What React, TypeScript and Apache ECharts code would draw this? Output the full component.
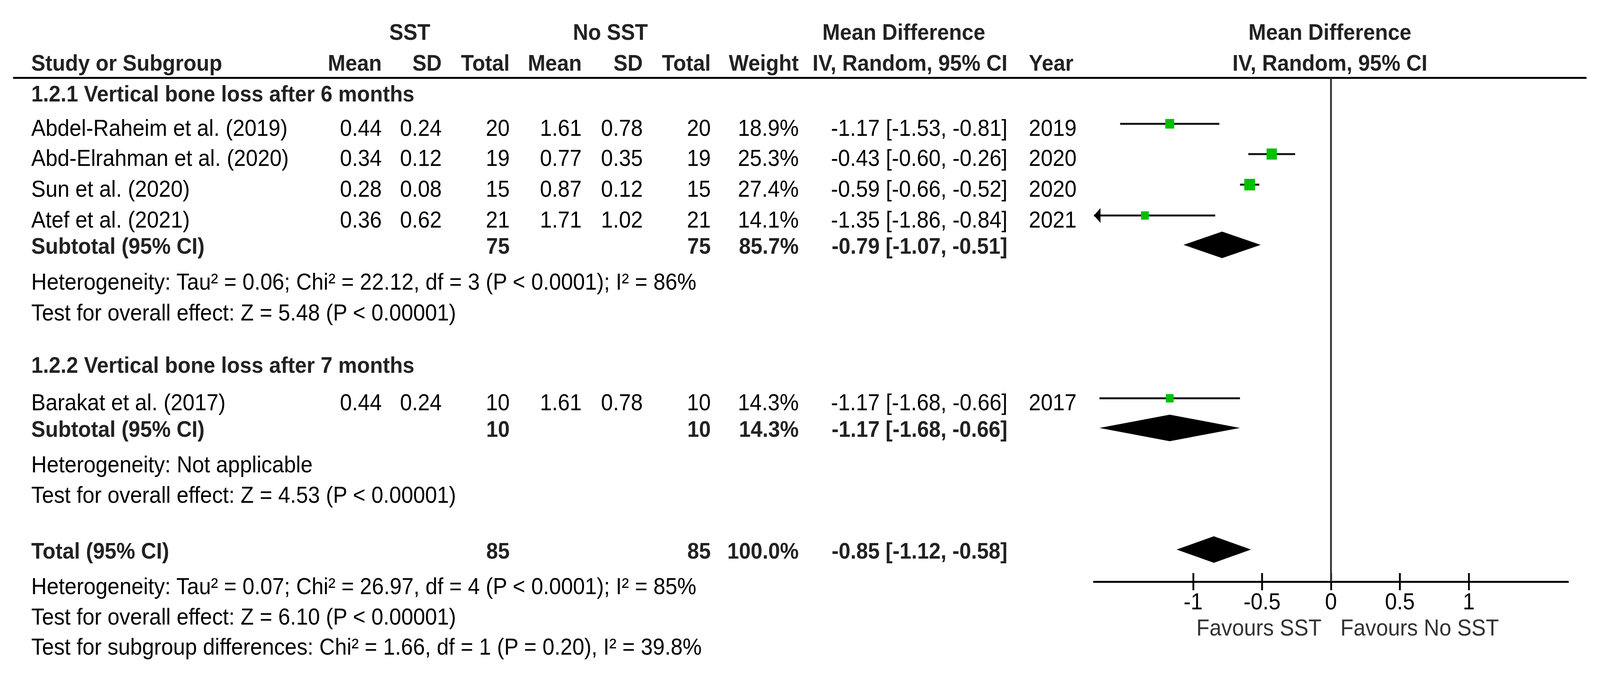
import React, { useEffect, useRef } from "react";
import * as echarts from "echarts";

// ---------------- data ----------------
const studies = [
  "Abdel-Raheim et al. (2019)",
  "Abd-Elrahman et al. (2020)",
  "Sun et al. (2020)",
  "Atef et al. (2021)",
  "Barakat et al. (2017)",
];
const sstMean = [0.44, 0.34, 0.28, 0.36, 0.44];
const sstSD = [0.24, 0.12, 0.08, 0.62, 0.24];
const sstTotal = [20, 19, 15, 21, 10];
const noMean = [1.61, 0.77, 0.87, 1.71, 1.61];
const noSD = [0.78, 0.35, 0.12, 1.02, 0.78];
const noTotal = [20, 19, 15, 21, 10];
const weights = [18.9, 25.3, 27.4, 14.1, 14.3];
const md = [-1.17, -0.43, -0.59, -1.35, -1.17];
const ciLow = [-1.53, -0.6, -0.66, -1.86, -1.68];
const ciHigh = [-0.81, -0.26, -0.52, -0.84, -0.66];
const years = [2019, 2020, 2020, 2021, 2017];

const groupTitles = [
  "1.2.1 Vertical bone loss after 6 months",
  "1.2.2 Vertical bone loss after 7 months",
];
const subSstTotal = [75, 10];
const subNoTotal = [75, 10];
const subWeight = [85.7, 14.3];
const subMd = [-0.79, -1.17];
const subLow = [-1.07, -1.68];
const subHigh = [-0.51, -0.66];
const subHet = [
  "Heterogeneity: Tau² = 0.06; Chi² = 22.12, df = 3 (P < 0.0001); I² = 86%",
  "Heterogeneity: Not applicable",
];
const subTest = [
  "Test for overall effect: Z = 5.48 (P < 0.00001)",
  "Test for overall effect: Z = 4.53 (P < 0.00001)",
];
const totalSst = 85;
const totalNo = 85;
const totalWeight = 100.0;
const totalMd = -0.85;
const totalLow = -1.12;
const totalHigh = -0.58;
const totalHet = "Heterogeneity: Tau² = 0.07; Chi² = 26.97, df = 4 (P < 0.0001); I² = 85%";
const totalTest = "Test for overall effect: Z = 6.10 (P < 0.00001)";
const subgroupTest = "Test for subgroup differences: Chi² = 1.66, df = 1 (P = 0.20), I² = 39.8%";

const tickValues = [-1, -0.5, 0, 0.5, 1];
const favoursLeft = "Favours SST";
const favoursRight = "Favours No SST";

// ---------------- layout ----------------
const W = 4401;
const H = 1724;
const FONT = '"Liberation Sans", Arial, Helvetica, sans-serif';
const REG = 59;
const BOLD = 58;
const LINE_Y = 199.5;
const ROW_PX = 78.3;
const AXIS_Y = 1490;
const Y_MAX = (AXIS_Y - LINE_Y) / ROW_PX;
const PLOT_LEFT = 3009;
const PLOT_RIGHT = 4313;
const TABLE_LEFT = 38;
const TABLE_RIGHT = 4362;
const X_MIN = -1.72;
const X_MAX = 1.72;
const LW = 5;

const COL = {
  study: 86,
  m1: 1050,
  sd1: 1215,
  n1: 1402,
  m2: 1600,
  sd2: 1768,
  n2: 1955,
  w: 2197,
  ci: 2771,
  year: 2830,
  h1: 1127,
  h2: 1679,
  h3: 2486,
};

// row positions (text centres) in row units below the header rule
const header1Y = -1.5;
const header2Y = -0.5;
const groupTitleY = [0.52, 9.39];
const studyRowY = [1.63, 2.62, 3.62, 4.63, 10.61];
const subRowY = [5.5, 11.49];
const subHetY = [6.67, 12.64];
const subTestY = [7.67, 13.64];
const totalRowY = 15.47;
const totalHetY = 16.62;
const totalTestY = 17.62;
const subgroupTestY = 18.6;
const favoursY = 17.98;
const MARK_SHIFT = 10 / ROW_PX;
const DIAMOND_SHIFT = 3 / ROW_PX;

type Cell = { x: number; y: number; text: string; align: string; bold?: boolean; color?: string };

const ci = (m: number, l: number, h: number) => `${m.toFixed(2)} [${l.toFixed(2)}, ${h.toFixed(2)}]`;

function buildCells(): Cell[] {
  const c: Cell[] = [];
  const B = "#222";
  c.push({ x: COL.h1, y: header1Y, text: "SST", align: "center", bold: true, color: B });
  c.push({ x: COL.h2, y: header1Y, text: "No SST", align: "center", bold: true, color: B });
  c.push({ x: COL.h3, y: header1Y, text: "Mean Difference", align: "center", bold: true, color: B });
  const h2: [number, string, string][] = [
    [COL.study, "Study or Subgroup", "left"],
    [COL.m1, "Mean", "right"],
    [COL.sd1, "SD", "right"],
    [COL.n1, "Total", "right"],
    [COL.m2, "Mean", "right"],
    [COL.sd2, "SD", "right"],
    [COL.n2, "Total", "right"],
    [COL.w, "Weight", "right"],
    [COL.ci, "IV, Random, 95% CI", "right"],
    [COL.year, "Year", "left"],
  ];
  h2.forEach(([x, t, a]) => c.push({ x, y: header2Y, text: t, align: a, bold: true, color: B }));

  groupTitles.forEach((g, gi) => {
    c.push({ x: COL.study, y: groupTitleY[gi], text: g, align: "left", bold: true, color: B });
  });
  studies.forEach((s, i) => {
    const y = studyRowY[i];
    c.push({ x: COL.study, y, text: s, align: "left" });
    c.push({ x: COL.m1, y, text: sstMean[i].toFixed(2), align: "right" });
    c.push({ x: COL.sd1, y, text: sstSD[i].toFixed(2), align: "right" });
    c.push({ x: COL.n1, y, text: String(sstTotal[i]), align: "right" });
    c.push({ x: COL.m2, y, text: noMean[i].toFixed(2), align: "right" });
    c.push({ x: COL.sd2, y, text: noSD[i].toFixed(2), align: "right" });
    c.push({ x: COL.n2, y, text: String(noTotal[i]), align: "right" });
    c.push({ x: COL.w, y, text: weights[i].toFixed(1) + "%", align: "right" });
    c.push({ x: COL.ci, y, text: ci(md[i], ciLow[i], ciHigh[i]), align: "right" });
    c.push({ x: COL.year, y, text: String(years[i]), align: "left" });
  });
  subMd.forEach((m, gi) => {
    const y = subRowY[gi];
    c.push({ x: COL.study, y, text: "Subtotal (95% CI)", align: "left", bold: true, color: B });
    c.push({ x: COL.n1, y, text: String(subSstTotal[gi]), align: "right", bold: true, color: B });
    c.push({ x: COL.n2, y, text: String(subNoTotal[gi]), align: "right", bold: true, color: B });
    c.push({ x: COL.w, y, text: subWeight[gi].toFixed(1) + "%", align: "right", bold: true, color: B });
    c.push({ x: COL.ci, y, text: ci(m, subLow[gi], subHigh[gi]), align: "right", bold: true, color: B });
    c.push({ x: COL.study, y: subHetY[gi], text: subHet[gi], align: "left" });
    c.push({ x: COL.study, y: subTestY[gi], text: subTest[gi], align: "left" });
  });
  c.push({ x: COL.study, y: totalRowY, text: "Total (95% CI)", align: "left", bold: true, color: B });
  c.push({ x: COL.n1, y: totalRowY, text: String(totalSst), align: "right", bold: true, color: B });
  c.push({ x: COL.n2, y: totalRowY, text: String(totalNo), align: "right", bold: true, color: B });
  c.push({ x: COL.w, y: totalRowY, text: totalWeight.toFixed(1) + "%", align: "right", bold: true, color: B });
  c.push({ x: COL.ci, y: totalRowY, text: ci(totalMd, totalLow, totalHigh), align: "right", bold: true, color: B });
  c.push({ x: COL.study, y: totalHetY, text: totalHet, align: "left" });
  c.push({ x: COL.study, y: totalTestY, text: totalTest, align: "left" });
  c.push({ x: COL.study, y: subgroupTestY, text: subgroupTest, align: "left" });
  return c;
}

type PCell = { v: number; dx: number; y: number; text: string; align: string; bold?: boolean; color: string };
const plotCells: PCell[] = [
  { v: 0, dx: -3, y: header1Y, text: "Mean Difference", align: "center", bold: true, color: "#222" },
  { v: 0, dx: -3, y: header2Y, text: "IV, Random, 95% CI", align: "center", bold: true, color: "#222" },
  { v: 0, dx: -26, y: favoursY, text: favoursLeft, align: "right", color: "#333" },
  { v: 0, dx: 26, y: favoursY, text: favoursRight, align: "left", color: "#333" },
];

function textEl(x: number, y: number, text: string, align: string, bold?: boolean, color?: string) {
  return {
    type: "text",
    x,
    y,
    style: {
      text,
      fill: color || "#000",
      fontSize: bold ? BOLD : REG,
      fontFamily: FONT,
      fontWeight: bold ? "bold" : "normal",
      align,
      verticalAlign: "middle",
    },
  };
}

export default function App() {
  const ref = useRef<HTMLDivElement>(null);
  const vw = typeof window !== "undefined" ? window.innerWidth : W;
  const vh = typeof window !== "undefined" ? window.innerHeight : H;
  const sx = vw / W;
  const sy = vh / H;

  useEffect(() => {
    if (!ref.current) return;
    document.body.style.margin = "0";
    document.body.style.overflow = "hidden";
    const chart = echarts.init(ref.current, null, { renderer: "svg", width: W, height: H });
    const cells = buildCells();

    const studyData = studies.map((_, i) => [md[i], studyRowY[i] - MARK_SHIFT, ciLow[i], ciHigh[i], weights[i]]);
    const diamondData = [
      ...subMd.map((m, gi) => [m, subRowY[gi] - DIAMOND_SHIFT, subLow[gi], subHigh[gi]]),
      [totalMd, totalRowY - DIAMOND_SHIFT, totalLow, totalHigh],
    ];

    const option: any = {
      animation: false,
      backgroundColor: "#ffffff",
      grid: [
        { left: PLOT_LEFT, top: LINE_Y, width: PLOT_RIGHT - PLOT_LEFT, height: AXIS_Y - LINE_Y },
        { left: TABLE_LEFT, top: LINE_Y, width: TABLE_RIGHT - TABLE_LEFT, height: AXIS_Y - LINE_Y },
      ],
      xAxis: [
        {
          gridIndex: 0,
          type: "value",
          min: X_MIN,
          max: X_MAX,
          position: "bottom",
          axisLine: { show: true, onZero: false, lineStyle: { color: "#000", width: LW } },
          axisTick: { show: true, customValues: tickValues, length: 22, lineStyle: { color: "#000", width: LW } },
          axisLabel: {
            show: true,
            customValues: tickValues,
            formatter: (v: number) => String(v),
            margin: 21,
            fontSize: REG,
            color: "#000",
            fontFamily: FONT,
          },
          splitLine: { show: false },
        },
        {
          gridIndex: 0,
          type: "value",
          min: X_MIN,
          max: X_MAX,
          position: "bottom",
          axisLine: { show: false, onZero: false },
          axisTick: { show: true, inside: true, customValues: tickValues, length: 22, lineStyle: { color: "#000", width: LW } },
          axisLabel: { show: false },
          splitLine: { show: false },
        },
        {
          gridIndex: 1,
          type: "value",
          min: TABLE_LEFT,
          max: TABLE_RIGHT,
          position: "top",
          axisLine: { show: true, onZero: false, lineStyle: { color: "#000", width: LW } },
          axisTick: { show: false },
          axisLabel: { show: false },
          splitLine: { show: false },
        },
      ],
      yAxis: [
        { gridIndex: 0, type: "value", min: 0, max: Y_MAX, inverse: true, show: false, splitLine: { show: false } },
        { gridIndex: 1, type: "value", min: 0, max: Y_MAX, inverse: true, show: false, splitLine: { show: false } },
      ],
      series: [
        {
          type: "line",
          xAxisIndex: 0,
          yAxisIndex: 0,
          data: [
            [0, 0],
            [0, Y_MAX],
          ],
          symbol: "none",
          silent: true,
          lineStyle: { color: "#333", width: LW },
          z: 1,
        },
        {
          type: "custom",
          xAxisIndex: 2,
          yAxisIndex: 1,
          clip: false,
          silent: true,
          data: cells.map((c) => [c.x, c.y]),
          renderItem: (params: any, api: any) => {
            const c = cells[params.dataIndex];
            const p = api.coord([api.value(0), api.value(1)]);
            return textEl(p[0], p[1], c.text, c.align, c.bold, c.color);
          },
          z: 5,
        },
        {
          type: "custom",
          xAxisIndex: 0,
          yAxisIndex: 0,
          clip: false,
          silent: true,
          data: plotCells.map((c) => [c.v, c.y]),
          renderItem: (params: any, api: any) => {
            const c = plotCells[params.dataIndex];
            const p = api.coord([api.value(0), api.value(1)]);
            return textEl(p[0] + c.dx, p[1], c.text, c.align, c.bold, c.color);
          },
          z: 5,
        },
        {
          type: "custom",
          xAxisIndex: 0,
          yAxisIndex: 0,
          clip: false,
          silent: true,
          data: studyData,
          renderItem: (params: any, api: any) => {
            const m = api.value(0);
            const y = api.value(1);
            const lo = api.value(2);
            const hi = api.value(3);
            const w = api.value(4);
            const c = api.coord([m, y]);
            const pl = api.coord([Math.max(lo, X_MIN), y]);
            const ph = api.coord([Math.min(hi, X_MAX), y]);
            const side = 5.65 * Math.sqrt(w);
            const children: any[] = [
              {
                type: "line",
                shape: { x1: pl[0], y1: c[1], x2: ph[0], y2: c[1] },
                style: { stroke: "#111", lineWidth: LW },
              },
              {
                type: "rect",
                shape: { x: c[0] - side / 2, y: c[1] - side / 2, width: side, height: side },
                style: { fill: "#00c000" },
              },
            ];
            if (lo < X_MIN) {
              children.push({
                type: "polygon",
                shape: {
                  points: [
                    [pl[0], c[1]],
                    [pl[0] + 18, c[1] - 19],
                    [pl[0] + 18, c[1] + 19],
                  ],
                },
                style: { fill: "#000" },
              });
            }
            return { type: "group", children };
          },
          z: 3,
        },
        {
          type: "custom",
          xAxisIndex: 0,
          yAxisIndex: 0,
          clip: false,
          silent: true,
          data: diamondData,
          renderItem: (params: any, api: any) => {
            const y = api.value(1);
            const c = api.coord([api.value(0), y]);
            const pl = api.coord([api.value(2), y]);
            const ph = api.coord([api.value(3), y]);
            const hh = 34;
            return {
              type: "polygon",
              shape: {
                points: [
                  [pl[0], c[1]],
                  [c[0], c[1] - hh],
                  [ph[0], c[1]],
                  [c[0], c[1] + hh],
                ],
              },
              style: { fill: "#000" },
            };
          },
          z: 3,
        },
      ],
    };
    chart.setOption(option);
    return () => chart.dispose();
  }, []);

  return (
    <div
      ref={ref}
      style={{
        position: "fixed",
        left: 0,
        top: 0,
        width: W,
        height: H,
        background: "#fff",
        transform: `scale(${sx}, ${sy})`,
        transformOrigin: "0 0",
      }}
    />
  );
}
